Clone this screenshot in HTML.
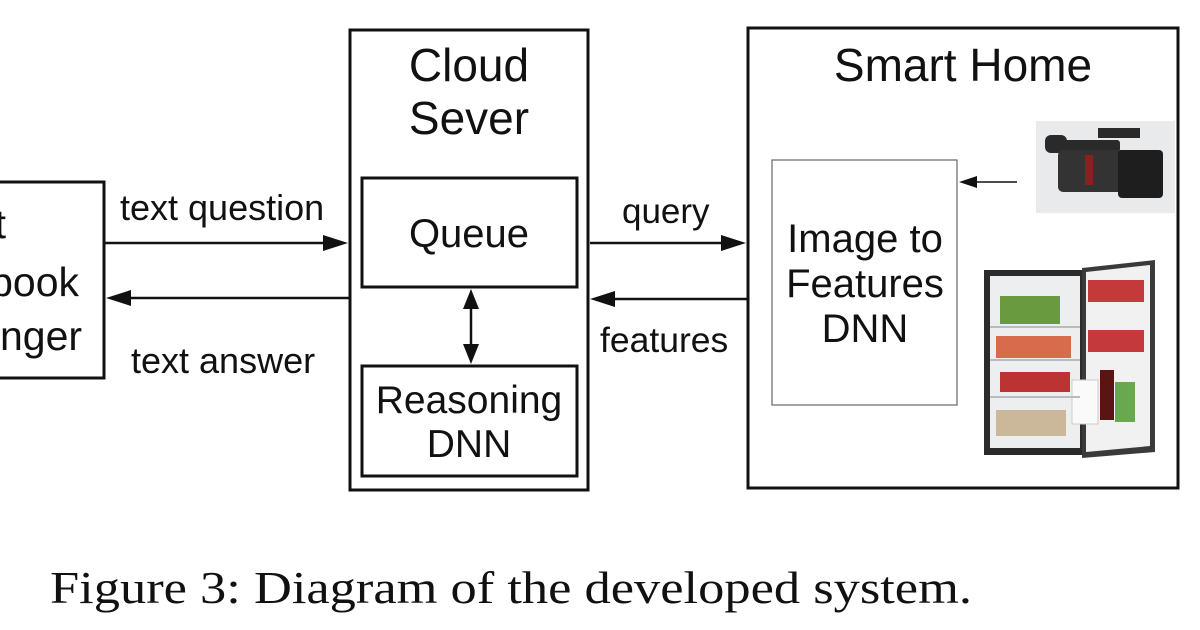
<!DOCTYPE html>
<html><head><style>
html,body{margin:0;padding:0;background:#fff;}
svg{display:block;}
text{font-family:"Liberation Sans",sans-serif;fill:#111;}
</style></head><body>
<svg width="1200" height="630" viewBox="0 0 1200 630" xmlns="http://www.w3.org/2000/svg">
<rect width="1200" height="630" fill="#fff"/>
<!-- left box -->
<rect x="-10" y="182" width="114" height="196" fill="none" stroke="#111" stroke-width="3"/>
<text x="6" y="238" font-size="41" text-anchor="end">Chat</text>
<text x="-11" y="296" font-size="41" text-anchor="middle">Facebook</text>
<text x="-5" y="350" font-size="41" text-anchor="end">Mes</text>
<text x="0" y="350" font-size="41">nger</text>
<!-- arrows left -->
<line x1="104" y1="243" x2="325" y2="243" stroke="#111" stroke-width="2.5"/>
<polygon points="348,243 323,235 323,251" fill="#111"/>
<line x1="350" y1="298" x2="130" y2="298" stroke="#111" stroke-width="2.5"/>
<polygon points="106,298 131,290 131,306" fill="#111"/>
<text x="120" y="220" font-size="36">text question</text>
<text x="131" y="373" font-size="36">text answer</text>
<!-- cloud -->
<rect x="350" y="30" width="238" height="460" fill="none" stroke="#111" stroke-width="3"/>
<text x="469" y="81" font-size="46" text-anchor="middle">Cloud</text>
<text x="469" y="134" font-size="46" text-anchor="middle">Sever</text>
<rect x="362" y="178" width="215" height="109" fill="none" stroke="#111" stroke-width="3"/>
<text x="469" y="247" font-size="40" text-anchor="middle">Queue</text>
<rect x="362" y="366" width="215" height="110" fill="none" stroke="#111" stroke-width="3"/>
<text x="469" y="413" font-size="39" text-anchor="middle">Reasoning</text>
<text x="469" y="457" font-size="39" text-anchor="middle">DNN</text>
<line x1="471" y1="305" x2="471" y2="348" stroke="#111" stroke-width="2.5"/>
<polygon points="471,289 463,309 479,309" fill="#111"/>
<polygon points="471,364 463,344 479,344" fill="#111"/>
<!-- query/features -->
<line x1="590" y1="243" x2="722" y2="243" stroke="#111" stroke-width="2.5"/>
<polygon points="746,243 721,235 721,251" fill="#111"/>
<line x1="748" y1="299" x2="614" y2="299" stroke="#111" stroke-width="2.5"/>
<polygon points="590,299 615,291 615,307" fill="#111"/>
<text x="622" y="223" font-size="35">query</text>
<text x="600" y="352" font-size="35.5">features</text>
<!-- smart home -->
<rect x="748" y="28" width="430" height="460" fill="none" stroke="#111" stroke-width="3"/>
<text x="963" y="81" font-size="46" text-anchor="middle">Smart Home</text>
<rect x="772" y="160" width="185" height="245" fill="none" stroke="#666" stroke-width="1.2"/>
<text x="865" y="252" font-size="40" text-anchor="middle">Image to</text>
<text x="865" y="297" font-size="40" text-anchor="middle">Features</text>
<text x="865" y="342" font-size="40" text-anchor="middle">DNN</text>
<line x1="1017" y1="182" x2="975" y2="182" stroke="#111" stroke-width="1.5"/>
<polygon points="959,182 977,176 977,188" fill="#111"/>
<!-- camera -->
<rect x="1036" y="121" width="139" height="92" fill="#e9eaec"/>
<rect x="1060" y="140" width="60" height="12" rx="3" fill="#2a2a2a"/>
<rect x="1045" y="135" width="22" height="18" rx="6" fill="#2a2a2a"/>
<rect x="1058" y="150" width="70" height="42" rx="5" fill="#333"/>
<rect x="1085" y="155" width="8" height="30" fill="#8a2020"/>
<rect x="1118" y="150" width="45" height="48" rx="4" fill="#1e1e1e"/>
<rect x="1098" y="128" width="42" height="10" fill="#2a2a2a"/>
<!-- fridge -->
<rect x="984" y="270" width="100" height="185" fill="#2b2b2b"/>
<rect x="990" y="276" width="90" height="172" fill="#eceef0"/>
<polygon points="1082,268 1155,260 1155,452 1082,458" fill="#3a3a3a"/>
<polygon points="1086,272 1150,265 1150,446 1086,452" fill="#f1f1f1"/>
<rect x="1088" y="280" width="56" height="22" fill="#c43a3a"/>
<rect x="1088" y="330" width="56" height="22" fill="#c43a3a"/>
<rect x="1100" y="370" width="14" height="50" fill="#5a1414"/>
<rect x="1115" y="382" width="20" height="40" fill="#6aa84f"/>
<rect x="1072" y="380" width="26" height="44" fill="#fafafa" stroke="#ccc"/>
<rect x="1000" y="296" width="60" height="28" fill="#6a9a40"/>
<rect x="996" y="336" width="75" height="22" fill="#d86b4c"/>
<rect x="1000" y="372" width="70" height="20" fill="#b33"/>
<rect x="996" y="410" width="70" height="26" fill="#cbb89a"/>
<line x1="990" y1="327" x2="1080" y2="327" stroke="#bbb" stroke-width="2"/>
<line x1="990" y1="360" x2="1080" y2="360" stroke="#bbb" stroke-width="2"/>
<line x1="990" y1="397" x2="1080" y2="397" stroke="#bbb" stroke-width="2"/>
<!-- caption -->
<text x="50" y="603" font-size="46" textLength="922" lengthAdjust="spacingAndGlyphs" style="font-family:'Liberation Serif',serif">Figure 3: Diagram of the developed system.</text>
</svg>
</body></html>
